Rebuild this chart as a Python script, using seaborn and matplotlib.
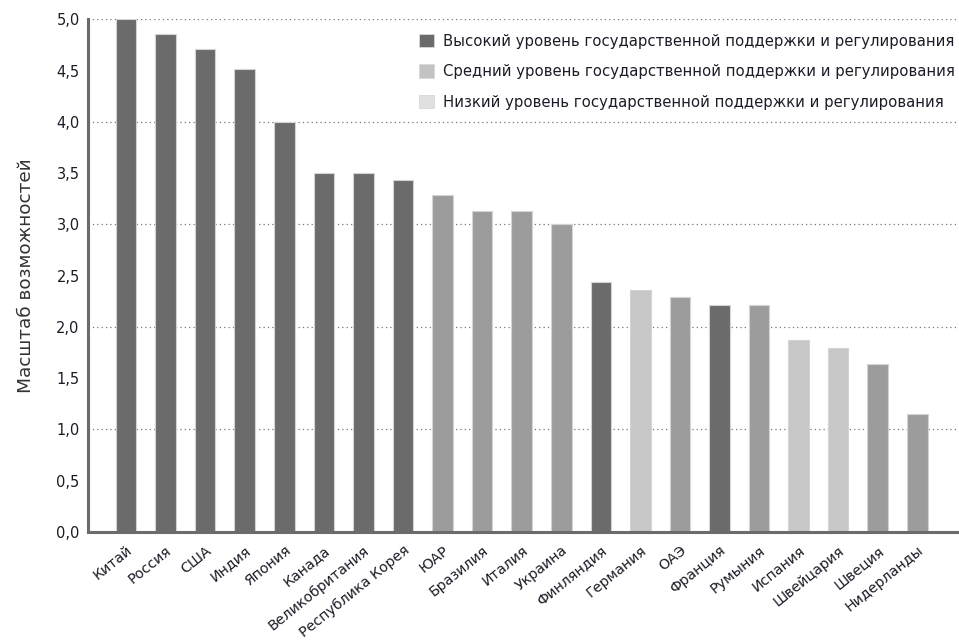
import matplotlib
matplotlib.use("Agg")
import matplotlib.pyplot as plt
import seaborn as sns
import pandas as pd
from matplotlib.patches import Patch

countries = ["Китай", "Россия", "США", "Индия", "Япония", "Канада", "Великобритания",
             "Республика Корея", "ЮАР", "Бразилия", "Италия", "Украина", "Финляндия",
             "Германия", "ОАЭ", "Франция", "Румыния", "Испания", "Швейцария", "Швеция",
             "Нидерланды"]
values = [5.0, 4.86, 4.71, 4.51, 4.0, 3.5, 3.5, 3.43, 3.29, 3.135, 3.135, 3.0, 2.44,
          2.36, 2.29, 2.21, 2.21, 1.87, 1.79, 1.64, 1.15]
groups = ["high", "high", "high", "high", "high", "high", "high", "high",
          "mid", "mid", "mid", "mid", "high", "low", "mid", "high", "mid",
          "low", "low", "mid", "mid"]
legend_labels = ["Высокий уровень государственной поддержки и регулирования",
                 "Средний уровень государственной поддержки и регулирования",
                 "Низкий уровень государственной поддержки и регулирования"]
y_ticks = [0, 0.5, 1, 1.5, 2, 2.5, 3, 3.5, 4, 4.5, 5]
y_label = "Масштаб возможностей"

bar_colors = {"high": "#6b6b6b", "mid": "#9c9c9c", "low": "#c6c7c6"}
legend_colors = ["#6b6b6b", "#c3c3c3", "#e0e0e0"]

df = pd.DataFrame({"country": countries, "value": values, "group": groups})

sns.set_style("white")
plt.rcParams["font.family"] = ["DejaVu Sans"]

fig = plt.figure(figsize=(9.59, 6.41), dpi=100)
ax = fig.add_axes([0.0918, 0.170, 0.906, 0.800])

sns.barplot(data=df, x="country", y="value", hue="group", palette=bar_colors,
            dodge=False, legend=False, width=0.52, ax=ax,
            edgecolor="#d4d4d4", linewidth=0.8, zorder=3)

ax.set_ylim(0, 5.0)
ax.set_xlim(-0.96, 21.0)
ax.set_yticks(y_ticks)
ax.set_yticklabels([f"{t:.1f}".replace(".", ",") for t in y_ticks], fontsize=10.5, color="#1c1c28")
ax.tick_params(axis="both", length=0, pad=6)
ax.set_xticks(range(len(countries)))
ax.set_xticklabels(countries, rotation=39, ha="right", rotation_mode="anchor",
                   fontsize=10.3, color="#1c1c28")
ax.tick_params(axis="x", pad=8)
ax.set_xlabel("")
ax.set_ylabel(y_label, fontsize=13.3, color="#333333", labelpad=15)

for yv in [1, 2, 3, 4, 5]:
    ax.axhline(yv, color="#777777", lw=0.9, ls=(0, (1, 2.5)), zorder=1)

for s in ["top", "right"]:
    ax.spines[s].set_visible(False)
for s in ["left", "bottom"]:
    ax.spines[s].set_color("#6b6b6b")
    ax.spines[s].set_linewidth(2.2)
    ax.spines[s].set_zorder(4)

handles = [Patch(facecolor=c, edgecolor="#d8d8d8", linewidth=0.6) for c in legend_colors]
ax.legend(handles, legend_labels, loc="upper left", bbox_to_anchor=(0.366, 0.998),
          frameon=False, fontsize=10.7, handlelength=0.95, handleheight=1.0,
          handletextpad=0.65, labelspacing=1.05, labelcolor="#1c1c28")

fig.savefig("out.png", dpi=100, facecolor="white")
